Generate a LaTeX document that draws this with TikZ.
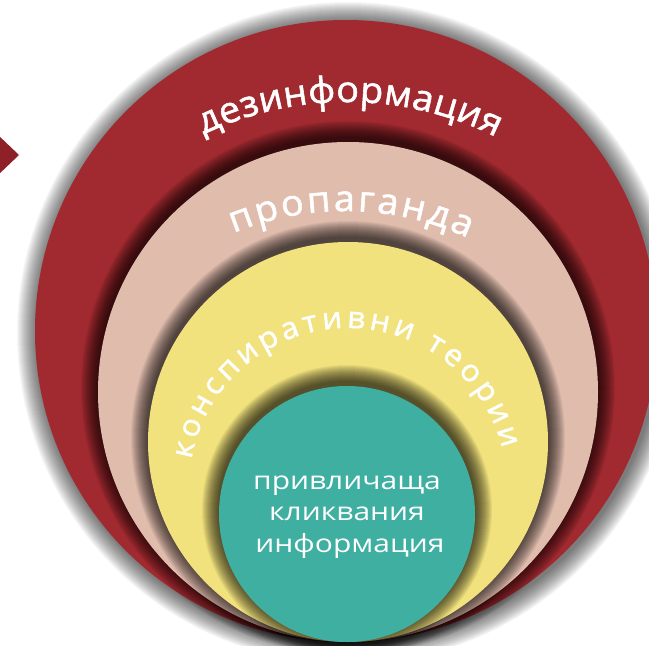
\documentclass[tikz,border=0pt]{standalone}
\usepackage{fontspec}
\setmainfont{Open Sans}
\newfontfamily\arcfont[FakeStretch=1.05,FakeBold=1.5]{Open Sans}
\newfontfamily\tealfont[FakeStretch=1.2]{Open Sans}
\usetikzlibrary{decorations.text}
\definecolor{ringred}{HTML}{A02A30}
\definecolor{ringpink}{HTML}{E0BCAD}
\definecolor{ringyellow}{HTML}{F1E27D}
\definecolor{ringteal}{HTML}{3EAFA0}
\definecolor{arrowred}{HTML}{8E2027}
\tikzset{
  outershadow/.style={black,opacity=0.035},
  innershadow/.style={black,opacity=0.055},
  arcdeco/.style={decorate,decoration={text along path,text align=fit to path,text={#1}}},
  tealtext/.style={anchor=base,text=white,font=\tealfont\fontsize{25}{25}\selectfont,inner sep=0pt}
}
\begin{document}
\begin{tikzpicture}[x=1pt,y=1pt]
\useasboundingbox (0,0) rectangle (649,-646);
\clip (0,0) rectangle (649,-646);
\coordinate (cR) at (346,-331);
\coordinate (cP) at (348,-392);
\coordinate (cY) at (348,-442);
\coordinate (cT) at (347,-514);
\coordinate (cD) at (347,-436);
\coordinate (cPt) at (345,-505);
\coordinate (cK) at (348,-487);
% arrow tip at left
\fill[arrowred] (-2,-135) -- (19,-155) -- (-2,-175) -- cycle;
% outer red circle with shadow
\foreach \i in {1,...,20} \fill[outershadow] ([shift={(2,-2)}]cR) circle (311+\i);
\fill[ringred] (cR) circle (311);
% pink
\foreach \i in {1,...,17} \fill[innershadow] ([shift={(0,4)}]cP) circle (250+\i);
\fill[ringpink] (cP) circle (250);
% yellow
\foreach \i in {1,...,17} \fill[innershadow] ([shift={(0,4)}]cY) circle (200+\i);
\fill[ringyellow] (cY) circle (200);
% teal
\foreach \i in {1,...,17} \fill[innershadow] ([shift={(0,4)}]cT) circle (128+\i);
\fill[ringteal] (cT) circle (128);
% curved texts
\path[arcdeco={|\arcfont\fontsize{36}{36}\selectfont\color{white}|дезинформация}]
  ([shift={(115.5:334)}]cD) arc[start angle=115.5,end angle=63.5,radius=334];
\path[arcdeco={|\arcfont\fontsize{36}{36}\selectfont\color{white}|пропаганда}]
  ([shift={(112.3:294)}]cPt) arc[start angle=112.3,end angle=65.3,radius=294];
\path[arcdeco={|\arcfont\fontsize{30}{30}\selectfont\color{white}|конспиративни теории}]
  ([shift={(170:159)}]cK) arc[start angle=170,end angle=14,radius=159];
% teal text
\node[tealtext] (l1) at (347,-489) {привличаща};
\node[tealtext] (l2) at (347,-520) {кликвания};
\node[tealtext] (l3) at (350,-552) {информация};
\end{tikzpicture}
\end{document}
